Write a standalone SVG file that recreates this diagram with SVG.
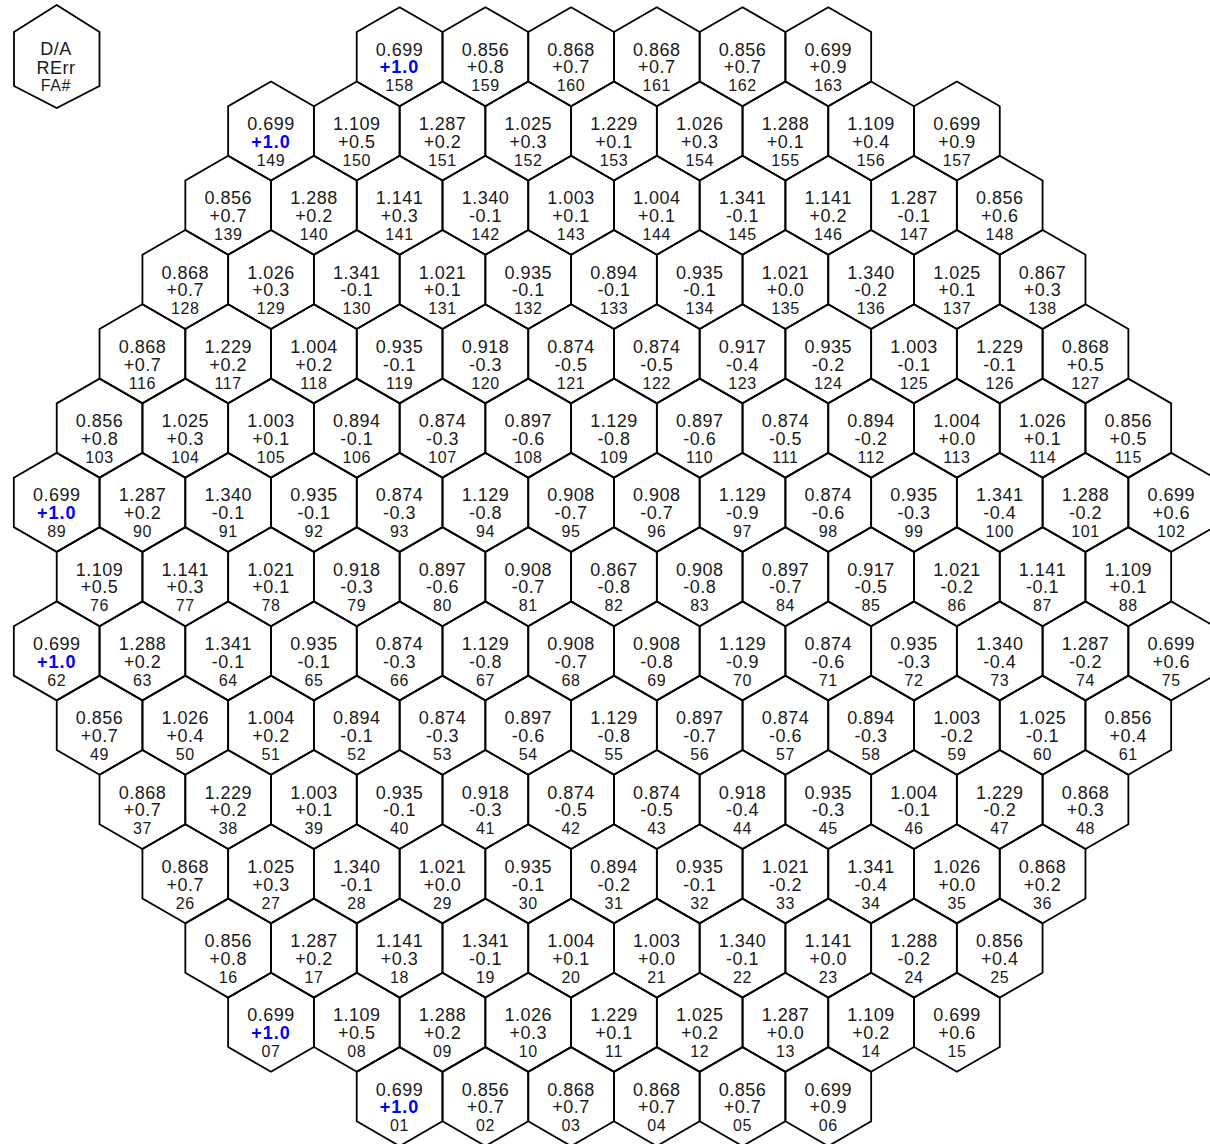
<svg xmlns="http://www.w3.org/2000/svg" xmlns:xlink="http://www.w3.org/1999/xlink" width="1210" height="1144" viewBox="0 0 1210 1144">
<style>
.h{fill:none;stroke:#000;stroke-width:1.8;stroke-linejoin:miter}
text{font-family:"Liberation Sans",Arial,sans-serif;text-anchor:middle;fill:#1a1a1a}
.a{font-size:18px;letter-spacing:0.5px}
.c{font-size:16px;letter-spacing:0.6px}
.hi{fill:#0000ff;font-weight:bold;letter-spacing:1px}
</style>
<defs>
<polygon id="hx" class="h" points="0,-49.5 42.87,-24.75 42.87,24.75 0,49.5 -42.87,24.75 -42.87,-24.75"/>
</defs>
<rect width="1210" height="1144" fill="#fff"/>
<g id="legend">
<polygon class="h" points="56.7,5 99.5,32 99.5,86 56.7,108 14,86 14,32"/>
<text class="a" x="56" y="55">D/A</text>
<text class="a" x="56" y="74">RErr</text>
<text class="c" x="56" y="90.7">FA#</text>
</g>
<g id="nodes">
<!-- r0 -->
<g id="fa158" transform="translate(399.6,56.7)"><use href="#hx"/><text class="a" y="-1">0.699</text><text class="a hi" y="16.8">+1.0</text><text class="c" y="34.8">158</text></g>
<g id="fa159" transform="translate(485.4,56.7)"><use href="#hx"/><text class="a" y="-1">0.856</text><text class="a" y="16.8">+0.8</text><text class="c" y="34.8">159</text></g>
<g id="fa160" transform="translate(571.1,56.7)"><use href="#hx"/><text class="a" y="-1">0.868</text><text class="a" y="16.8">+0.7</text><text class="c" y="34.8">160</text></g>
<g id="fa161" transform="translate(656.8,56.7)"><use href="#hx"/><text class="a" y="-1">0.868</text><text class="a" y="16.8">+0.7</text><text class="c" y="34.8">161</text></g>
<g id="fa162" transform="translate(742.5,56.7)"><use href="#hx"/><text class="a" y="-1">0.856</text><text class="a" y="16.8">+0.7</text><text class="c" y="34.8">162</text></g>
<g id="fa163" transform="translate(828.3,56.7)"><use href="#hx"/><text class="a" y="-1">0.699</text><text class="a" y="16.8">+0.9</text><text class="c" y="34.8">163</text></g>
<!-- r1 -->
<g id="fa149" transform="translate(271.0,131.0)"><use href="#hx"/><text class="a" y="-1">0.699</text><text class="a hi" y="16.8">+1.0</text><text class="c" y="34.8">149</text></g>
<g id="fa150" transform="translate(356.8,131.0)"><use href="#hx"/><text class="a" y="-1">1.109</text><text class="a" y="16.8">+0.5</text><text class="c" y="34.8">150</text></g>
<g id="fa151" transform="translate(442.5,131.0)"><use href="#hx"/><text class="a" y="-1">1.287</text><text class="a" y="16.8">+0.2</text><text class="c" y="34.8">151</text></g>
<g id="fa152" transform="translate(528.2,131.0)"><use href="#hx"/><text class="a" y="-1">1.025</text><text class="a" y="16.8">+0.3</text><text class="c" y="34.8">152</text></g>
<g id="fa153" transform="translate(614.0,131.0)"><use href="#hx"/><text class="a" y="-1">1.229</text><text class="a" y="16.8">+0.1</text><text class="c" y="34.8">153</text></g>
<g id="fa154" transform="translate(699.7,131.0)"><use href="#hx"/><text class="a" y="-1">1.026</text><text class="a" y="16.8">+0.3</text><text class="c" y="34.8">154</text></g>
<g id="fa155" transform="translate(785.4,131.0)"><use href="#hx"/><text class="a" y="-1">1.288</text><text class="a" y="16.8">+0.1</text><text class="c" y="34.8">155</text></g>
<g id="fa156" transform="translate(871.1,131.0)"><use href="#hx"/><text class="a" y="-1">1.109</text><text class="a" y="16.8">+0.4</text><text class="c" y="34.8">156</text></g>
<g id="fa157" transform="translate(956.9,131.0)"><use href="#hx"/><text class="a" y="-1">0.699</text><text class="a" y="16.8">+0.9</text><text class="c" y="34.8">157</text></g>
<!-- r2 -->
<g id="fa139" transform="translate(228.2,205.3)"><use href="#hx"/><text class="a" y="-1">0.856</text><text class="a" y="16.8">+0.7</text><text class="c" y="34.8">139</text></g>
<g id="fa140" transform="translate(313.9,205.3)"><use href="#hx"/><text class="a" y="-1">1.288</text><text class="a" y="16.8">+0.2</text><text class="c" y="34.8">140</text></g>
<g id="fa141" transform="translate(399.6,205.3)"><use href="#hx"/><text class="a" y="-1">1.141</text><text class="a" y="16.8">+0.3</text><text class="c" y="34.8">141</text></g>
<g id="fa142" transform="translate(485.4,205.3)"><use href="#hx"/><text class="a" y="-1">1.340</text><text class="a" y="16.8">-0.1</text><text class="c" y="34.8">142</text></g>
<g id="fa143" transform="translate(571.1,205.3)"><use href="#hx"/><text class="a" y="-1">1.003</text><text class="a" y="16.8">+0.1</text><text class="c" y="34.8">143</text></g>
<g id="fa144" transform="translate(656.8,205.3)"><use href="#hx"/><text class="a" y="-1">1.004</text><text class="a" y="16.8">+0.1</text><text class="c" y="34.8">144</text></g>
<g id="fa145" transform="translate(742.5,205.3)"><use href="#hx"/><text class="a" y="-1">1.341</text><text class="a" y="16.8">-0.1</text><text class="c" y="34.8">145</text></g>
<g id="fa146" transform="translate(828.3,205.3)"><use href="#hx"/><text class="a" y="-1">1.141</text><text class="a" y="16.8">+0.2</text><text class="c" y="34.8">146</text></g>
<g id="fa147" transform="translate(914.0,205.3)"><use href="#hx"/><text class="a" y="-1">1.287</text><text class="a" y="16.8">-0.1</text><text class="c" y="34.8">147</text></g>
<g id="fa148" transform="translate(999.7,205.3)"><use href="#hx"/><text class="a" y="-1">0.856</text><text class="a" y="16.8">+0.6</text><text class="c" y="34.8">148</text></g>
<!-- r3 -->
<g id="fa128" transform="translate(185.3,279.5)"><use href="#hx"/><text class="a" y="-1">0.868</text><text class="a" y="16.8">+0.7</text><text class="c" y="34.8">128</text></g>
<g id="fa129" transform="translate(271.0,279.5)"><use href="#hx"/><text class="a" y="-1">1.026</text><text class="a" y="16.8">+0.3</text><text class="c" y="34.8">129</text></g>
<g id="fa130" transform="translate(356.8,279.5)"><use href="#hx"/><text class="a" y="-1">1.341</text><text class="a" y="16.8">-0.1</text><text class="c" y="34.8">130</text></g>
<g id="fa131" transform="translate(442.5,279.5)"><use href="#hx"/><text class="a" y="-1">1.021</text><text class="a" y="16.8">+0.1</text><text class="c" y="34.8">131</text></g>
<g id="fa132" transform="translate(528.2,279.5)"><use href="#hx"/><text class="a" y="-1">0.935</text><text class="a" y="16.8">-0.1</text><text class="c" y="34.8">132</text></g>
<g id="fa133" transform="translate(614.0,279.5)"><use href="#hx"/><text class="a" y="-1">0.894</text><text class="a" y="16.8">-0.1</text><text class="c" y="34.8">133</text></g>
<g id="fa134" transform="translate(699.7,279.5)"><use href="#hx"/><text class="a" y="-1">0.935</text><text class="a" y="16.8">-0.1</text><text class="c" y="34.8">134</text></g>
<g id="fa135" transform="translate(785.4,279.5)"><use href="#hx"/><text class="a" y="-1">1.021</text><text class="a" y="16.8">+0.0</text><text class="c" y="34.8">135</text></g>
<g id="fa136" transform="translate(871.1,279.5)"><use href="#hx"/><text class="a" y="-1">1.340</text><text class="a" y="16.8">-0.2</text><text class="c" y="34.8">136</text></g>
<g id="fa137" transform="translate(956.9,279.5)"><use href="#hx"/><text class="a" y="-1">1.025</text><text class="a" y="16.8">+0.1</text><text class="c" y="34.8">137</text></g>
<g id="fa138" transform="translate(1042.6,279.5)"><use href="#hx"/><text class="a" y="-1">0.867</text><text class="a" y="16.8">+0.3</text><text class="c" y="34.8">138</text></g>
<!-- r4 -->
<g id="fa116" transform="translate(142.4,353.8)"><use href="#hx"/><text class="a" y="-1">0.868</text><text class="a" y="16.8">+0.7</text><text class="c" y="34.8">116</text></g>
<g id="fa117" transform="translate(228.2,353.8)"><use href="#hx"/><text class="a" y="-1">1.229</text><text class="a" y="16.8">+0.2</text><text class="c" y="34.8">117</text></g>
<g id="fa118" transform="translate(313.9,353.8)"><use href="#hx"/><text class="a" y="-1">1.004</text><text class="a" y="16.8">+0.2</text><text class="c" y="34.8">118</text></g>
<g id="fa119" transform="translate(399.6,353.8)"><use href="#hx"/><text class="a" y="-1">0.935</text><text class="a" y="16.8">-0.1</text><text class="c" y="34.8">119</text></g>
<g id="fa120" transform="translate(485.4,353.8)"><use href="#hx"/><text class="a" y="-1">0.918</text><text class="a" y="16.8">-0.3</text><text class="c" y="34.8">120</text></g>
<g id="fa121" transform="translate(571.1,353.8)"><use href="#hx"/><text class="a" y="-1">0.874</text><text class="a" y="16.8">-0.5</text><text class="c" y="34.8">121</text></g>
<g id="fa122" transform="translate(656.8,353.8)"><use href="#hx"/><text class="a" y="-1">0.874</text><text class="a" y="16.8">-0.5</text><text class="c" y="34.8">122</text></g>
<g id="fa123" transform="translate(742.5,353.8)"><use href="#hx"/><text class="a" y="-1">0.917</text><text class="a" y="16.8">-0.4</text><text class="c" y="34.8">123</text></g>
<g id="fa124" transform="translate(828.3,353.8)"><use href="#hx"/><text class="a" y="-1">0.935</text><text class="a" y="16.8">-0.2</text><text class="c" y="34.8">124</text></g>
<g id="fa125" transform="translate(914.0,353.8)"><use href="#hx"/><text class="a" y="-1">1.003</text><text class="a" y="16.8">-0.1</text><text class="c" y="34.8">125</text></g>
<g id="fa126" transform="translate(999.7,353.8)"><use href="#hx"/><text class="a" y="-1">1.229</text><text class="a" y="16.8">-0.1</text><text class="c" y="34.8">126</text></g>
<g id="fa127" transform="translate(1085.5,353.8)"><use href="#hx"/><text class="a" y="-1">0.868</text><text class="a" y="16.8">+0.5</text><text class="c" y="34.8">127</text></g>
<!-- r5 -->
<g id="fa103" transform="translate(99.6,428.1)"><use href="#hx"/><text class="a" y="-1">0.856</text><text class="a" y="16.8">+0.8</text><text class="c" y="34.8">103</text></g>
<g id="fa104" transform="translate(185.3,428.1)"><use href="#hx"/><text class="a" y="-1">1.025</text><text class="a" y="16.8">+0.3</text><text class="c" y="34.8">104</text></g>
<g id="fa105" transform="translate(271.0,428.1)"><use href="#hx"/><text class="a" y="-1">1.003</text><text class="a" y="16.8">+0.1</text><text class="c" y="34.8">105</text></g>
<g id="fa106" transform="translate(356.8,428.1)"><use href="#hx"/><text class="a" y="-1">0.894</text><text class="a" y="16.8">-0.1</text><text class="c" y="34.8">106</text></g>
<g id="fa107" transform="translate(442.5,428.1)"><use href="#hx"/><text class="a" y="-1">0.874</text><text class="a" y="16.8">-0.3</text><text class="c" y="34.8">107</text></g>
<g id="fa108" transform="translate(528.2,428.1)"><use href="#hx"/><text class="a" y="-1">0.897</text><text class="a" y="16.8">-0.6</text><text class="c" y="34.8">108</text></g>
<g id="fa109" transform="translate(614.0,428.1)"><use href="#hx"/><text class="a" y="-1">1.129</text><text class="a" y="16.8">-0.8</text><text class="c" y="34.8">109</text></g>
<g id="fa110" transform="translate(699.7,428.1)"><use href="#hx"/><text class="a" y="-1">0.897</text><text class="a" y="16.8">-0.6</text><text class="c" y="34.8">110</text></g>
<g id="fa111" transform="translate(785.4,428.1)"><use href="#hx"/><text class="a" y="-1">0.874</text><text class="a" y="16.8">-0.5</text><text class="c" y="34.8">111</text></g>
<g id="fa112" transform="translate(871.1,428.1)"><use href="#hx"/><text class="a" y="-1">0.894</text><text class="a" y="16.8">-0.2</text><text class="c" y="34.8">112</text></g>
<g id="fa113" transform="translate(956.9,428.1)"><use href="#hx"/><text class="a" y="-1">1.004</text><text class="a" y="16.8">+0.0</text><text class="c" y="34.8">113</text></g>
<g id="fa114" transform="translate(1042.6,428.1)"><use href="#hx"/><text class="a" y="-1">1.026</text><text class="a" y="16.8">+0.1</text><text class="c" y="34.8">114</text></g>
<g id="fa115" transform="translate(1128.3,428.1)"><use href="#hx"/><text class="a" y="-1">0.856</text><text class="a" y="16.8">+0.5</text><text class="c" y="34.8">115</text></g>
<!-- r6 -->
<g id="fa89" transform="translate(56.7,502.4)"><use href="#hx"/><text class="a" y="-1">0.699</text><text class="a hi" y="16.8">+1.0</text><text class="c" y="34.8">89</text></g>
<g id="fa90" transform="translate(142.4,502.4)"><use href="#hx"/><text class="a" y="-1">1.287</text><text class="a" y="16.8">+0.2</text><text class="c" y="34.8">90</text></g>
<g id="fa91" transform="translate(228.2,502.4)"><use href="#hx"/><text class="a" y="-1">1.340</text><text class="a" y="16.8">-0.1</text><text class="c" y="34.8">91</text></g>
<g id="fa92" transform="translate(313.9,502.4)"><use href="#hx"/><text class="a" y="-1">0.935</text><text class="a" y="16.8">-0.1</text><text class="c" y="34.8">92</text></g>
<g id="fa93" transform="translate(399.6,502.4)"><use href="#hx"/><text class="a" y="-1">0.874</text><text class="a" y="16.8">-0.3</text><text class="c" y="34.8">93</text></g>
<g id="fa94" transform="translate(485.4,502.4)"><use href="#hx"/><text class="a" y="-1">1.129</text><text class="a" y="16.8">-0.8</text><text class="c" y="34.8">94</text></g>
<g id="fa95" transform="translate(571.1,502.4)"><use href="#hx"/><text class="a" y="-1">0.908</text><text class="a" y="16.8">-0.7</text><text class="c" y="34.8">95</text></g>
<g id="fa96" transform="translate(656.8,502.4)"><use href="#hx"/><text class="a" y="-1">0.908</text><text class="a" y="16.8">-0.7</text><text class="c" y="34.8">96</text></g>
<g id="fa97" transform="translate(742.5,502.4)"><use href="#hx"/><text class="a" y="-1">1.129</text><text class="a" y="16.8">-0.9</text><text class="c" y="34.8">97</text></g>
<g id="fa98" transform="translate(828.3,502.4)"><use href="#hx"/><text class="a" y="-1">0.874</text><text class="a" y="16.8">-0.6</text><text class="c" y="34.8">98</text></g>
<g id="fa99" transform="translate(914.0,502.4)"><use href="#hx"/><text class="a" y="-1">0.935</text><text class="a" y="16.8">-0.3</text><text class="c" y="34.8">99</text></g>
<g id="fa100" transform="translate(999.7,502.4)"><use href="#hx"/><text class="a" y="-1">1.341</text><text class="a" y="16.8">-0.4</text><text class="c" y="34.8">100</text></g>
<g id="fa101" transform="translate(1085.5,502.4)"><use href="#hx"/><text class="a" y="-1">1.288</text><text class="a" y="16.8">-0.2</text><text class="c" y="34.8">101</text></g>
<g id="fa102" transform="translate(1171.2,502.4)"><use href="#hx"/><text class="a" y="-1">0.699</text><text class="a" y="16.8">+0.6</text><text class="c" y="34.8">102</text></g>
<!-- r7 -->
<g id="fa76" transform="translate(99.6,576.7)"><use href="#hx"/><text class="a" y="-1">1.109</text><text class="a" y="16.8">+0.5</text><text class="c" y="34.8">76</text></g>
<g id="fa77" transform="translate(185.3,576.7)"><use href="#hx"/><text class="a" y="-1">1.141</text><text class="a" y="16.8">+0.3</text><text class="c" y="34.8">77</text></g>
<g id="fa78" transform="translate(271.0,576.7)"><use href="#hx"/><text class="a" y="-1">1.021</text><text class="a" y="16.8">+0.1</text><text class="c" y="34.8">78</text></g>
<g id="fa79" transform="translate(356.8,576.7)"><use href="#hx"/><text class="a" y="-1">0.918</text><text class="a" y="16.8">-0.3</text><text class="c" y="34.8">79</text></g>
<g id="fa80" transform="translate(442.5,576.7)"><use href="#hx"/><text class="a" y="-1">0.897</text><text class="a" y="16.8">-0.6</text><text class="c" y="34.8">80</text></g>
<g id="fa81" transform="translate(528.2,576.7)"><use href="#hx"/><text class="a" y="-1">0.908</text><text class="a" y="16.8">-0.7</text><text class="c" y="34.8">81</text></g>
<g id="fa82" transform="translate(614.0,576.7)"><use href="#hx"/><text class="a" y="-1">0.867</text><text class="a" y="16.8">-0.8</text><text class="c" y="34.8">82</text></g>
<g id="fa83" transform="translate(699.7,576.7)"><use href="#hx"/><text class="a" y="-1">0.908</text><text class="a" y="16.8">-0.8</text><text class="c" y="34.8">83</text></g>
<g id="fa84" transform="translate(785.4,576.7)"><use href="#hx"/><text class="a" y="-1">0.897</text><text class="a" y="16.8">-0.7</text><text class="c" y="34.8">84</text></g>
<g id="fa85" transform="translate(871.1,576.7)"><use href="#hx"/><text class="a" y="-1">0.917</text><text class="a" y="16.8">-0.5</text><text class="c" y="34.8">85</text></g>
<g id="fa86" transform="translate(956.9,576.7)"><use href="#hx"/><text class="a" y="-1">1.021</text><text class="a" y="16.8">-0.2</text><text class="c" y="34.8">86</text></g>
<g id="fa87" transform="translate(1042.6,576.7)"><use href="#hx"/><text class="a" y="-1">1.141</text><text class="a" y="16.8">-0.1</text><text class="c" y="34.8">87</text></g>
<g id="fa88" transform="translate(1128.3,576.7)"><use href="#hx"/><text class="a" y="-1">1.109</text><text class="a" y="16.8">+0.1</text><text class="c" y="34.8">88</text></g>
<!-- r8 -->
<g id="fa62" transform="translate(56.7,650.9)"><use href="#hx"/><text class="a" y="-1">0.699</text><text class="a hi" y="16.8">+1.0</text><text class="c" y="34.8">62</text></g>
<g id="fa63" transform="translate(142.4,650.9)"><use href="#hx"/><text class="a" y="-1">1.288</text><text class="a" y="16.8">+0.2</text><text class="c" y="34.8">63</text></g>
<g id="fa64" transform="translate(228.2,650.9)"><use href="#hx"/><text class="a" y="-1">1.341</text><text class="a" y="16.8">-0.1</text><text class="c" y="34.8">64</text></g>
<g id="fa65" transform="translate(313.9,650.9)"><use href="#hx"/><text class="a" y="-1">0.935</text><text class="a" y="16.8">-0.1</text><text class="c" y="34.8">65</text></g>
<g id="fa66" transform="translate(399.6,650.9)"><use href="#hx"/><text class="a" y="-1">0.874</text><text class="a" y="16.8">-0.3</text><text class="c" y="34.8">66</text></g>
<g id="fa67" transform="translate(485.4,650.9)"><use href="#hx"/><text class="a" y="-1">1.129</text><text class="a" y="16.8">-0.8</text><text class="c" y="34.8">67</text></g>
<g id="fa68" transform="translate(571.1,650.9)"><use href="#hx"/><text class="a" y="-1">0.908</text><text class="a" y="16.8">-0.7</text><text class="c" y="34.8">68</text></g>
<g id="fa69" transform="translate(656.8,650.9)"><use href="#hx"/><text class="a" y="-1">0.908</text><text class="a" y="16.8">-0.8</text><text class="c" y="34.8">69</text></g>
<g id="fa70" transform="translate(742.5,650.9)"><use href="#hx"/><text class="a" y="-1">1.129</text><text class="a" y="16.8">-0.9</text><text class="c" y="34.8">70</text></g>
<g id="fa71" transform="translate(828.3,650.9)"><use href="#hx"/><text class="a" y="-1">0.874</text><text class="a" y="16.8">-0.6</text><text class="c" y="34.8">71</text></g>
<g id="fa72" transform="translate(914.0,650.9)"><use href="#hx"/><text class="a" y="-1">0.935</text><text class="a" y="16.8">-0.3</text><text class="c" y="34.8">72</text></g>
<g id="fa73" transform="translate(999.7,650.9)"><use href="#hx"/><text class="a" y="-1">1.340</text><text class="a" y="16.8">-0.4</text><text class="c" y="34.8">73</text></g>
<g id="fa74" transform="translate(1085.5,650.9)"><use href="#hx"/><text class="a" y="-1">1.287</text><text class="a" y="16.8">-0.2</text><text class="c" y="34.8">74</text></g>
<g id="fa75" transform="translate(1171.2,650.9)"><use href="#hx"/><text class="a" y="-1">0.699</text><text class="a" y="16.8">+0.6</text><text class="c" y="34.8">75</text></g>
<!-- r9 -->
<g id="fa49" transform="translate(99.6,725.2)"><use href="#hx"/><text class="a" y="-1">0.856</text><text class="a" y="16.8">+0.7</text><text class="c" y="34.8">49</text></g>
<g id="fa50" transform="translate(185.3,725.2)"><use href="#hx"/><text class="a" y="-1">1.026</text><text class="a" y="16.8">+0.4</text><text class="c" y="34.8">50</text></g>
<g id="fa51" transform="translate(271.0,725.2)"><use href="#hx"/><text class="a" y="-1">1.004</text><text class="a" y="16.8">+0.2</text><text class="c" y="34.8">51</text></g>
<g id="fa52" transform="translate(356.8,725.2)"><use href="#hx"/><text class="a" y="-1">0.894</text><text class="a" y="16.8">-0.1</text><text class="c" y="34.8">52</text></g>
<g id="fa53" transform="translate(442.5,725.2)"><use href="#hx"/><text class="a" y="-1">0.874</text><text class="a" y="16.8">-0.3</text><text class="c" y="34.8">53</text></g>
<g id="fa54" transform="translate(528.2,725.2)"><use href="#hx"/><text class="a" y="-1">0.897</text><text class="a" y="16.8">-0.6</text><text class="c" y="34.8">54</text></g>
<g id="fa55" transform="translate(614.0,725.2)"><use href="#hx"/><text class="a" y="-1">1.129</text><text class="a" y="16.8">-0.8</text><text class="c" y="34.8">55</text></g>
<g id="fa56" transform="translate(699.7,725.2)"><use href="#hx"/><text class="a" y="-1">0.897</text><text class="a" y="16.8">-0.7</text><text class="c" y="34.8">56</text></g>
<g id="fa57" transform="translate(785.4,725.2)"><use href="#hx"/><text class="a" y="-1">0.874</text><text class="a" y="16.8">-0.6</text><text class="c" y="34.8">57</text></g>
<g id="fa58" transform="translate(871.1,725.2)"><use href="#hx"/><text class="a" y="-1">0.894</text><text class="a" y="16.8">-0.3</text><text class="c" y="34.8">58</text></g>
<g id="fa59" transform="translate(956.9,725.2)"><use href="#hx"/><text class="a" y="-1">1.003</text><text class="a" y="16.8">-0.2</text><text class="c" y="34.8">59</text></g>
<g id="fa60" transform="translate(1042.6,725.2)"><use href="#hx"/><text class="a" y="-1">1.025</text><text class="a" y="16.8">-0.1</text><text class="c" y="34.8">60</text></g>
<g id="fa61" transform="translate(1128.3,725.2)"><use href="#hx"/><text class="a" y="-1">0.856</text><text class="a" y="16.8">+0.4</text><text class="c" y="34.8">61</text></g>
<!-- r10 -->
<g id="fa37" transform="translate(142.4,799.5)"><use href="#hx"/><text class="a" y="-1">0.868</text><text class="a" y="16.8">+0.7</text><text class="c" y="34.8">37</text></g>
<g id="fa38" transform="translate(228.2,799.5)"><use href="#hx"/><text class="a" y="-1">1.229</text><text class="a" y="16.8">+0.2</text><text class="c" y="34.8">38</text></g>
<g id="fa39" transform="translate(313.9,799.5)"><use href="#hx"/><text class="a" y="-1">1.003</text><text class="a" y="16.8">+0.1</text><text class="c" y="34.8">39</text></g>
<g id="fa40" transform="translate(399.6,799.5)"><use href="#hx"/><text class="a" y="-1">0.935</text><text class="a" y="16.8">-0.1</text><text class="c" y="34.8">40</text></g>
<g id="fa41" transform="translate(485.4,799.5)"><use href="#hx"/><text class="a" y="-1">0.918</text><text class="a" y="16.8">-0.3</text><text class="c" y="34.8">41</text></g>
<g id="fa42" transform="translate(571.1,799.5)"><use href="#hx"/><text class="a" y="-1">0.874</text><text class="a" y="16.8">-0.5</text><text class="c" y="34.8">42</text></g>
<g id="fa43" transform="translate(656.8,799.5)"><use href="#hx"/><text class="a" y="-1">0.874</text><text class="a" y="16.8">-0.5</text><text class="c" y="34.8">43</text></g>
<g id="fa44" transform="translate(742.5,799.5)"><use href="#hx"/><text class="a" y="-1">0.918</text><text class="a" y="16.8">-0.4</text><text class="c" y="34.8">44</text></g>
<g id="fa45" transform="translate(828.3,799.5)"><use href="#hx"/><text class="a" y="-1">0.935</text><text class="a" y="16.8">-0.3</text><text class="c" y="34.8">45</text></g>
<g id="fa46" transform="translate(914.0,799.5)"><use href="#hx"/><text class="a" y="-1">1.004</text><text class="a" y="16.8">-0.1</text><text class="c" y="34.8">46</text></g>
<g id="fa47" transform="translate(999.7,799.5)"><use href="#hx"/><text class="a" y="-1">1.229</text><text class="a" y="16.8">-0.2</text><text class="c" y="34.8">47</text></g>
<g id="fa48" transform="translate(1085.5,799.5)"><use href="#hx"/><text class="a" y="-1">0.868</text><text class="a" y="16.8">+0.3</text><text class="c" y="34.8">48</text></g>
<!-- r11 -->
<g id="fa26" transform="translate(185.3,873.8)"><use href="#hx"/><text class="a" y="-1">0.868</text><text class="a" y="16.8">+0.7</text><text class="c" y="34.8">26</text></g>
<g id="fa27" transform="translate(271.0,873.8)"><use href="#hx"/><text class="a" y="-1">1.025</text><text class="a" y="16.8">+0.3</text><text class="c" y="34.8">27</text></g>
<g id="fa28" transform="translate(356.8,873.8)"><use href="#hx"/><text class="a" y="-1">1.340</text><text class="a" y="16.8">-0.1</text><text class="c" y="34.8">28</text></g>
<g id="fa29" transform="translate(442.5,873.8)"><use href="#hx"/><text class="a" y="-1">1.021</text><text class="a" y="16.8">+0.0</text><text class="c" y="34.8">29</text></g>
<g id="fa30" transform="translate(528.2,873.8)"><use href="#hx"/><text class="a" y="-1">0.935</text><text class="a" y="16.8">-0.1</text><text class="c" y="34.8">30</text></g>
<g id="fa31" transform="translate(614.0,873.8)"><use href="#hx"/><text class="a" y="-1">0.894</text><text class="a" y="16.8">-0.2</text><text class="c" y="34.8">31</text></g>
<g id="fa32" transform="translate(699.7,873.8)"><use href="#hx"/><text class="a" y="-1">0.935</text><text class="a" y="16.8">-0.1</text><text class="c" y="34.8">32</text></g>
<g id="fa33" transform="translate(785.4,873.8)"><use href="#hx"/><text class="a" y="-1">1.021</text><text class="a" y="16.8">-0.2</text><text class="c" y="34.8">33</text></g>
<g id="fa34" transform="translate(871.1,873.8)"><use href="#hx"/><text class="a" y="-1">1.341</text><text class="a" y="16.8">-0.4</text><text class="c" y="34.8">34</text></g>
<g id="fa35" transform="translate(956.9,873.8)"><use href="#hx"/><text class="a" y="-1">1.026</text><text class="a" y="16.8">+0.0</text><text class="c" y="34.8">35</text></g>
<g id="fa36" transform="translate(1042.6,873.8)"><use href="#hx"/><text class="a" y="-1">0.868</text><text class="a" y="16.8">+0.2</text><text class="c" y="34.8">36</text></g>
<!-- r12 -->
<g id="fa16" transform="translate(228.2,948.1)"><use href="#hx"/><text class="a" y="-1">0.856</text><text class="a" y="16.8">+0.8</text><text class="c" y="34.8">16</text></g>
<g id="fa17" transform="translate(313.9,948.1)"><use href="#hx"/><text class="a" y="-1">1.287</text><text class="a" y="16.8">+0.2</text><text class="c" y="34.8">17</text></g>
<g id="fa18" transform="translate(399.6,948.1)"><use href="#hx"/><text class="a" y="-1">1.141</text><text class="a" y="16.8">+0.3</text><text class="c" y="34.8">18</text></g>
<g id="fa19" transform="translate(485.4,948.1)"><use href="#hx"/><text class="a" y="-1">1.341</text><text class="a" y="16.8">-0.1</text><text class="c" y="34.8">19</text></g>
<g id="fa20" transform="translate(571.1,948.1)"><use href="#hx"/><text class="a" y="-1">1.004</text><text class="a" y="16.8">+0.1</text><text class="c" y="34.8">20</text></g>
<g id="fa21" transform="translate(656.8,948.1)"><use href="#hx"/><text class="a" y="-1">1.003</text><text class="a" y="16.8">+0.0</text><text class="c" y="34.8">21</text></g>
<g id="fa22" transform="translate(742.5,948.1)"><use href="#hx"/><text class="a" y="-1">1.340</text><text class="a" y="16.8">-0.1</text><text class="c" y="34.8">22</text></g>
<g id="fa23" transform="translate(828.3,948.1)"><use href="#hx"/><text class="a" y="-1">1.141</text><text class="a" y="16.8">+0.0</text><text class="c" y="34.8">23</text></g>
<g id="fa24" transform="translate(914.0,948.1)"><use href="#hx"/><text class="a" y="-1">1.288</text><text class="a" y="16.8">-0.2</text><text class="c" y="34.8">24</text></g>
<g id="fa25" transform="translate(999.7,948.1)"><use href="#hx"/><text class="a" y="-1">0.856</text><text class="a" y="16.8">+0.4</text><text class="c" y="34.8">25</text></g>
<!-- r13 -->
<g id="fa07" transform="translate(271.0,1022.3)"><use href="#hx"/><text class="a" y="-1">0.699</text><text class="a hi" y="16.8">+1.0</text><text class="c" y="34.8">07</text></g>
<g id="fa08" transform="translate(356.8,1022.3)"><use href="#hx"/><text class="a" y="-1">1.109</text><text class="a" y="16.8">+0.5</text><text class="c" y="34.8">08</text></g>
<g id="fa09" transform="translate(442.5,1022.3)"><use href="#hx"/><text class="a" y="-1">1.288</text><text class="a" y="16.8">+0.2</text><text class="c" y="34.8">09</text></g>
<g id="fa10" transform="translate(528.2,1022.3)"><use href="#hx"/><text class="a" y="-1">1.026</text><text class="a" y="16.8">+0.3</text><text class="c" y="34.8">10</text></g>
<g id="fa11" transform="translate(614.0,1022.3)"><use href="#hx"/><text class="a" y="-1">1.229</text><text class="a" y="16.8">+0.1</text><text class="c" y="34.8">11</text></g>
<g id="fa12" transform="translate(699.7,1022.3)"><use href="#hx"/><text class="a" y="-1">1.025</text><text class="a" y="16.8">+0.2</text><text class="c" y="34.8">12</text></g>
<g id="fa13" transform="translate(785.4,1022.3)"><use href="#hx"/><text class="a" y="-1">1.287</text><text class="a" y="16.8">+0.0</text><text class="c" y="34.8">13</text></g>
<g id="fa14" transform="translate(871.1,1022.3)"><use href="#hx"/><text class="a" y="-1">1.109</text><text class="a" y="16.8">+0.2</text><text class="c" y="34.8">14</text></g>
<g id="fa15" transform="translate(956.9,1022.3)"><use href="#hx"/><text class="a" y="-1">0.699</text><text class="a" y="16.8">+0.6</text><text class="c" y="34.8">15</text></g>
<!-- r14 -->
<g id="fa01" transform="translate(399.6,1096.6)"><use href="#hx"/><text class="a" y="-1">0.699</text><text class="a hi" y="16.8">+1.0</text><text class="c" y="34.8">01</text></g>
<g id="fa02" transform="translate(485.4,1096.6)"><use href="#hx"/><text class="a" y="-1">0.856</text><text class="a" y="16.8">+0.7</text><text class="c" y="34.8">02</text></g>
<g id="fa03" transform="translate(571.1,1096.6)"><use href="#hx"/><text class="a" y="-1">0.868</text><text class="a" y="16.8">+0.7</text><text class="c" y="34.8">03</text></g>
<g id="fa04" transform="translate(656.8,1096.6)"><use href="#hx"/><text class="a" y="-1">0.868</text><text class="a" y="16.8">+0.7</text><text class="c" y="34.8">04</text></g>
<g id="fa05" transform="translate(742.5,1096.6)"><use href="#hx"/><text class="a" y="-1">0.856</text><text class="a" y="16.8">+0.7</text><text class="c" y="34.8">05</text></g>
<g id="fa06" transform="translate(828.3,1096.6)"><use href="#hx"/><text class="a" y="-1">0.699</text><text class="a" y="16.8">+0.9</text><text class="c" y="34.8">06</text></g>
</g>
</svg>
